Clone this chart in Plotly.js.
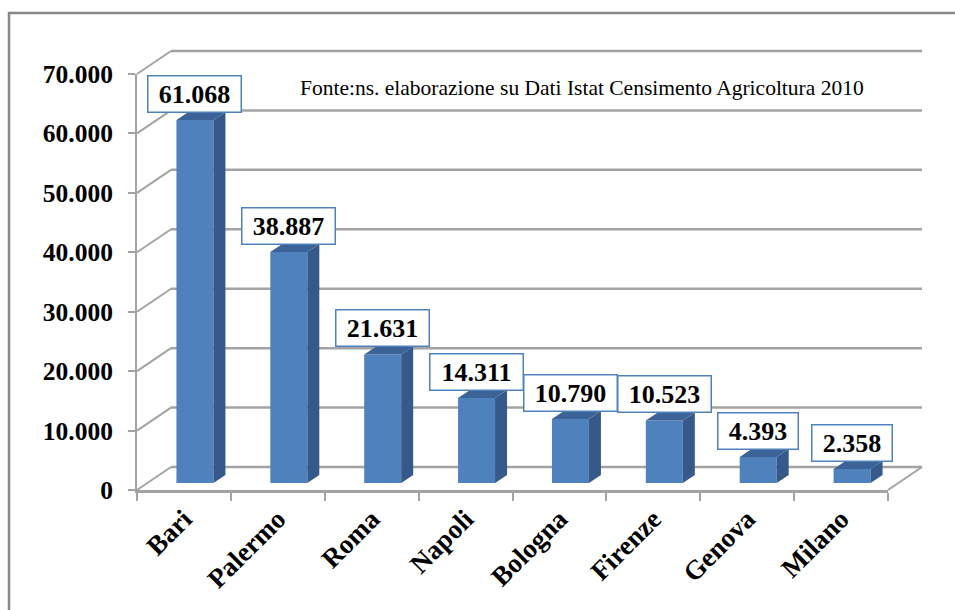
<!DOCTYPE html>
<html><head><meta charset="utf-8">
<script src="https://cdn.plot.ly/plotly-3.0.1.min.js"></script>
<style>html,body{margin:0;padding:0;background:#fff}#chart{width:955px;height:610px}</style>
</head><body><div id="chart"></div>
<script>
// ---- data ----
const categories = ['Bari','Palermo','Roma','Napoli','Bologna','Firenze','Genova','Milano'];
const values = [61068, 38887, 21631, 14311, 10790, 10523, 4393, 2358];
const yTickVals = [0, 10000, 20000, 30000, 40000, 50000, 60000, 70000];
const sourceNote = 'Fonte:ns. elaborazione su Dati Istat Censimento Agricoltura 2010';

// ---- geometry (pixels) ----
const W = 955, H = 610;
const L = 137, R = 922, T = 40, B = 490;
const PW = R - L, PH = B - T;
const frontRight = 888, yTopFront = 74;
const backDX = 34, backDY = 23;      // back wall offset
const barDX = 11, barDY = 7;         // bar front face offset
const depthDX = 12, depthDY = 8;     // bar depth
const px = x => (x - L) / PW;
const py = y => (B - y) / PH;
const yMax = yTickVals[yTickVals.length - 1];
const upx = yMax / (B - yTopFront);  // value units per pixel
const catPx = (frontRight - L) / categories.length;
const barW = 0.394;
const ddx = depthDX / catPx, ddy = depthDY * upx;

const FONT = 'Times New Roman, Liberation Serif, serif';
const faceColor = '#4f81bd', sideColor = '#35598a', topColor = '#3b6397';
const wallColor = '#a3a3a3';

const idx = categories.map((c, i) => i);
const fmt = v => String(v).replace(/\B(?=(\d{3})+(?!\d))/g, '.');

const traces = [];
traces.push({
  type: 'bar', x: idx, y: values, width: barW, xaxis: 'x2', yaxis: 'y2',
  marker: {color: faceColor, line: {width: 0}}, hoverinfo: 'skip', showlegend: false
});
values.forEach((v, i) => {
  const xr = i + barW / 2, xl = i - barW / 2;
  traces.push({
    type: 'scatter', mode: 'lines', xaxis: 'x2', yaxis: 'y2', fill: 'toself',
    x: [xr, xr + ddx, xr + ddx, xr, xr], y: [0, ddy, v + ddy, v, 0],
    fillcolor: sideColor, line: {width: 0, color: sideColor}, hoverinfo: 'skip', showlegend: false
  });
  traces.push({
    type: 'scatter', mode: 'lines', xaxis: 'x2', yaxis: 'y2', fill: 'toself',
    x: [xl, xr, xr + ddx, xl + ddx, xl], y: [v, v, v + ddy, v + ddy, v],
    fillcolor: topColor, line: {width: 0, color: topColor}, hoverinfo: 'skip', showlegend: false
  });
});
// dummy trace so the front axes exist
traces.push({type: 'scatter', x: [], y: [], xaxis: 'x', yaxis: 'y', showlegend: false, hoverinfo: 'skip'});

const shapes = [];
// outer frame
shapes.push({type: 'rect', xref: 'paper', yref: 'paper', x0: px(9), x1: px(1000), y0: py(700), y1: py(13),
  line: {color: '#888888', width: 2.5}, layer: 'below'});
yTickVals.forEach(v => {
  const yf = B - v / upx, yb = yf - backDY;
  shapes.push({type: 'line', xref: 'paper', yref: 'paper', x0: px(L), y0: py(yf), x1: px(L + backDX), y1: py(yb),
    line: {color: wallColor, width: 2}, layer: 'below'});
  shapes.push({type: 'line', xref: 'paper', yref: 'paper', x0: px(L + backDX), y0: py(yb), x1: px(R), y1: py(yb),
    line: {color: wallColor, width: 2.5}, layer: 'below'});
});
shapes.push({type: 'line', xref: 'paper', yref: 'paper', x0: px(frontRight), y0: py(B), x1: px(R), y1: py(B - backDY),
  line: {color: wallColor, width: 2}, layer: 'below'});

const annotations = values.map((v, i) => {
  const t = fmt(v);
  const digits = t.replace(/\./g, '').length;
  return {
    xref: 'x2', yref: 'y2', x: i, y: v, yanchor: 'bottom', xanchor: 'center', yshift: 7,
    text: t, showarrow: false, bgcolor: '#ffffff', bordercolor: '#4f81bd', borderwidth: 1.5, borderpad: 3,
    width: digits * 13 + 7 + 14,
    font: {family: FONT, size: 26, weight: 'bold', color: '#000'}
  };
});
annotations.push({
  xref: 'paper', yref: 'paper', x: px(581.5), y: py(88), xanchor: 'center', yanchor: 'middle',
  text: sourceNote, showarrow: false, font: {family: FONT, size: 21.5, color: '#000'}
});

const boundaries = categories.map((c, i) => i - 0.5).concat([categories.length - 0.5]);

const layout = {
  width: W, height: H,
  margin: {l: L, r: W - R, t: T, b: H - B, pad: 0},
  paper_bgcolor: '#fff', plot_bgcolor: 'rgba(0,0,0,0)',
  separators: ',.',
  showlegend: false,
  xaxis: {
    domain: [0, px(frontRight)], range: [-0.5, categories.length - 0.5], anchor: 'y',
    tickmode: 'array', tickvals: idx, ticktext: categories, tickangle: -45, ticks: '',
    tickfont: {family: FONT, size: 27, weight: 'bold', color: '#000'},
    minor: {tickmode: 'array', tickvals: boundaries, ticks: 'outside', ticklen: 8, tickwidth: 2, tickcolor: wallColor, showgrid: false},
    showline: true, linecolor: wallColor, linewidth: 2.5, showgrid: false, zeroline: false, fixedrange: true
  },
  yaxis: {
    domain: [0, py(yTopFront)], range: [0, yMax], anchor: 'x',
    tickmode: 'array', tickvals: yTickVals, tickformat: ',d',
    ticks: 'outside', ticklen: 7, tickwidth: 2, tickcolor: wallColor, ticklabelstandoff: 10,
    tickfont: {family: FONT, size: 25.5, weight: 'bold', color: '#000'},
    showline: true, linecolor: wallColor, linewidth: 2, showgrid: false, zeroline: false, fixedrange: true
  },
  xaxis2: {
    domain: [px(L + barDX), px(frontRight + barDX)], range: [-0.5, categories.length - 0.5],
    anchor: 'y2', visible: false, fixedrange: true
  },
  yaxis2: {
    domain: [py(B - barDY), py(yTopFront - barDY)], range: [0, yMax],
    anchor: 'x2', visible: false, fixedrange: true
  },
  shapes: shapes,
  annotations: annotations
};

Plotly.newPlot('chart', traces, layout, {staticPlot: true});
</script></body></html>
